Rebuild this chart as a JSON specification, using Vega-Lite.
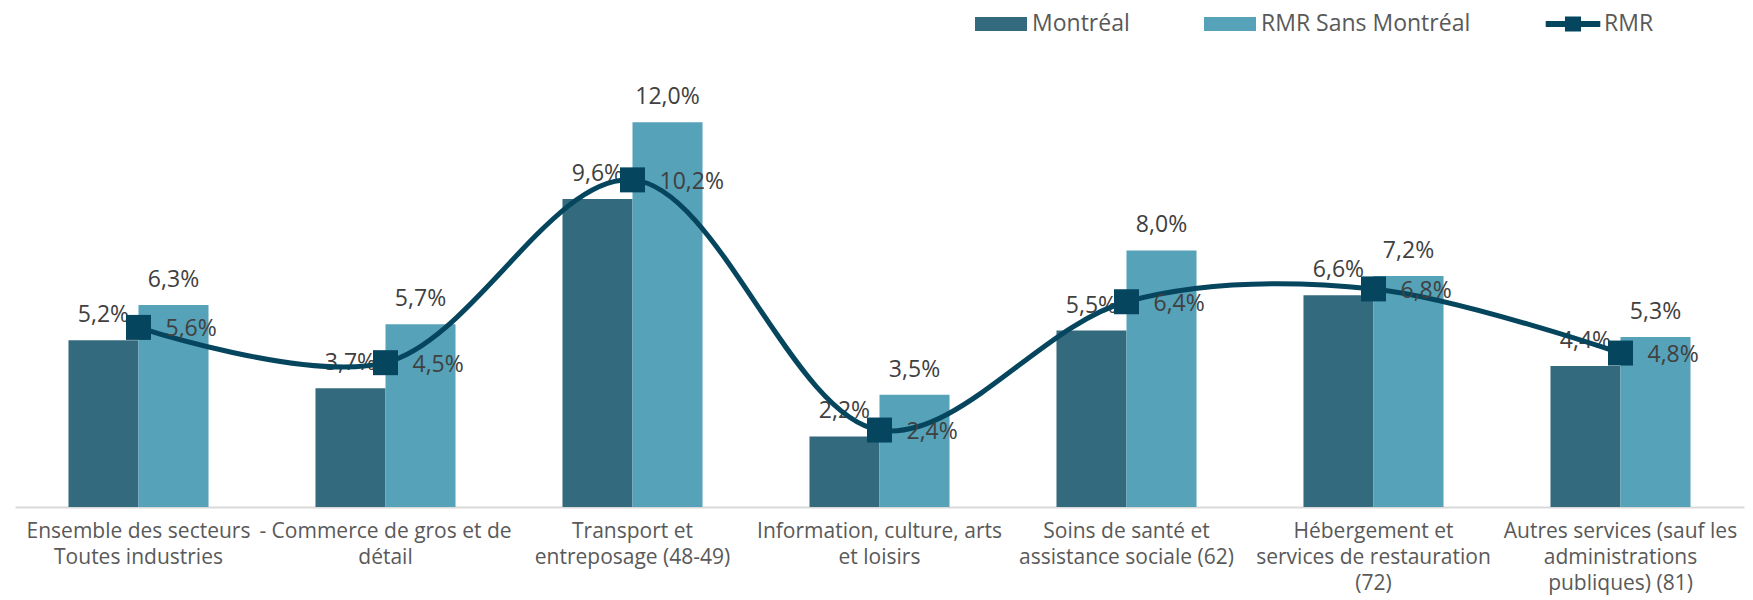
{
  "$schema": "https://vega.github.io/schema/vega-lite/v6.json",
  "width": 1729,
  "height": 449,
  "autosize": {"type": "none"},
  "padding": {"left": 15, "top": 58, "right": 9, "bottom": 93},
  "background": "white",
  "config": {
    "font": "Open Sans",
    "view": {"stroke": null},
    "locale": {
      "number": {"decimal": ",", "thousands": " ", "grouping": [3], "currency": ["", " $"]}
    }
  },
  "data": {
    "values": [
      {"cat": "Ensemble des secteurs|Toutes industries", "series": "Montréal", "value": 0.052},
      {"cat": "Ensemble des secteurs|Toutes industries", "series": "RMR Sans Montréal", "value": 0.063},
      {"cat": "Ensemble des secteurs|Toutes industries", "series": "RMR", "value": 0.056},
      {"cat": "- Commerce de gros et de|détail", "series": "Montréal", "value": 0.037},
      {"cat": "- Commerce de gros et de|détail", "series": "RMR Sans Montréal", "value": 0.057},
      {"cat": "- Commerce de gros et de|détail", "series": "RMR", "value": 0.045},
      {"cat": "Transport et|entreposage (48-49)", "series": "Montréal", "value": 0.096},
      {"cat": "Transport et|entreposage (48-49)", "series": "RMR Sans Montréal", "value": 0.120},
      {"cat": "Transport et|entreposage (48-49)", "series": "RMR", "value": 0.102},
      {"cat": "Information, culture, arts|et loisirs", "series": "Montréal", "value": 0.022},
      {"cat": "Information, culture, arts|et loisirs", "series": "RMR Sans Montréal", "value": 0.035},
      {"cat": "Information, culture, arts|et loisirs", "series": "RMR", "value": 0.024},
      {"cat": "Soins de santé et|assistance sociale (62)", "series": "Montréal", "value": 0.055},
      {"cat": "Soins de santé et|assistance sociale (62)", "series": "RMR Sans Montréal", "value": 0.080},
      {"cat": "Soins de santé et|assistance sociale (62)", "series": "RMR", "value": 0.064},
      {"cat": "Hébergement et|services de restauration|(72)", "series": "Montréal", "value": 0.066},
      {"cat": "Hébergement et|services de restauration|(72)", "series": "RMR Sans Montréal", "value": 0.072},
      {"cat": "Hébergement et|services de restauration|(72)", "series": "RMR", "value": 0.068},
      {"cat": "Autres services (sauf les|administrations|publiques) (81)", "series": "Montréal", "value": 0.044},
      {"cat": "Autres services (sauf les|administrations|publiques) (81)", "series": "RMR Sans Montréal", "value": 0.053},
      {"cat": "Autres services (sauf les|administrations|publiques) (81)", "series": "RMR", "value": 0.048}
    ]
  },
  "encoding": {
    "x": {
      "field": "cat",
      "type": "nominal",
      "sort": null,
      "scale": {"paddingInner": 0.433, "paddingOuter": 0.2165},
      "axis": {
        "title": null,
        "labelAngle": 0,
        "labelExpr": "split(datum.label, '|')",
        "labelFontSize": 21,
        "labelColor": "#595959",
        "labelLineHeight": 26,
        "labelPadding": 13,
        "labelLimit": 400,
        "ticks": false,
        "domainColor": "#d9d9d9",
        "domainWidth": 2
      }
    },
    "y": {
      "field": "value",
      "type": "quantitative",
      "scale": {"domain": [0, 0.14], "nice": false},
      "axis": null
    }
  },
  "layer": [
    {
      "transform": [{"filter": "datum.series !== 'RMR'"}],
      "mark": {"type": "bar"},
      "encoding": {
        "xOffset": {
          "field": "series",
          "type": "nominal",
          "scale": {"domain": ["Montréal", "RMR Sans Montréal"], "paddingInner": 0, "paddingOuter": 0}
        },
        "color": {
          "field": "series",
          "type": "nominal",
          "scale": {
            "domain": ["Montréal", "RMR Sans Montréal", "RMR"],
            "range": ["#346a7e", "#56a2b9", "#05465e"]
          },
          "legend": {
            "title": null,
            "orient": "none",
            "direction": "horizontal",
            "legendX": 960,
            "legendY": -60,
            "padding": 0,
            "labelFontSize": 23,
            "labelColor": "#595959",
            "labelOffset": 5,
            "labelLimit": 400,
            "columnPadding": 74,
            "symbolSize": 2704,
            "encode": {
              "symbols": {
                "update": {
                  "shape": {"signal": "datum.value === 'RMR' ? 'M-1.05,-0.12H1.05V0.12H-1.05Z M-0.31,-0.29H0.31V0.29H-0.31Z' : 'M-1,-0.27H1V0.27H-1Z'"},
                  "fill": {"signal": "scale('color', datum.value)"},
                  "stroke": {"value": "transparent"},
                  "strokeWidth": {"value": 0},
                  "opacity": {"value": 1},
                  "size": {"value": 2704}
                }
              }
            }
          }
        }
      }
    },
    {
      "transform": [{"filter": "datum.series !== 'RMR'"}],
      "mark": {"type": "text", "fontSize": 23, "color": "#404040", "baseline": "alphabetic", "dy": -18},
      "encoding": {
        "xOffset": {"field": "series", "type": "nominal"},
        "text": {"field": "value", "type": "quantitative", "format": ".1%"}
      }
    },
    {
      "transform": [{"filter": "datum.series === 'RMR'"}],
      "mark": {
        "type": "line",
        "interpolate": "catmull-rom",
        "strokeWidth": 5,
        "point": {"shape": "square", "size": 625, "filled": true, "opacity": 1}
      },
      "encoding": {
        "color": {"field": "series", "type": "nominal"}
      }
    },
    {
      "transform": [{"filter": "datum.series === 'RMR'"}],
      "mark": {"type": "text", "fontSize": 23, "color": "#404040", "align": "left", "baseline": "middle", "dx": 27, "dy": 2},
      "encoding": {
        "text": {"field": "value", "type": "quantitative", "format": ".1%"}
      }
    }
  ]
}
